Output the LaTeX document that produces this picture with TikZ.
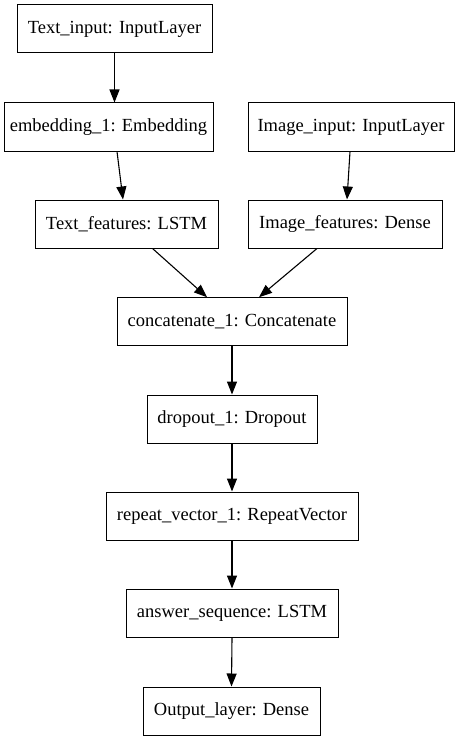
\documentclass[tikz,border=0pt]{standalone}
\usepackage{fontspec}
\newfontfamily\gvfont{Liberation Serif}
\usetikzlibrary{arrows.meta,calc}
\tikzset{
  layer/.style={draw=black,line width=1pt,minimum height=48pt,inner sep=0pt,font=\gvfont\fontsize{18.5}{20}\selectfont},
  edge/.style={line width=1.1pt,arrows={-Triangle[length=13pt,width=10pt]}}}
\begin{document}
\begin{tikzpicture}[x=1pt,y=-1pt]
\useasboundingbox (0,0) rectangle (462,741);
\node[layer,minimum width=195pt] (tin) at (114.5,29) {Text\_input: InputLayer};
\node[layer,minimum width=209pt] (emb) at (108.5,127) {embedding\_1: Embedding};
\node[layer,minimum width=206pt] (iin) at (351,127) {Image\_input: InputLayer};
\node[layer,minimum width=183pt] (tf) at (126.5,224) {Text\_features: LSTM};
\node[layer,minimum width=194pt] (imf) at (345,224) {Image\_features: Dense};
\node[layer,minimum width=230pt] (cat) at (232,321.7) {concatenate\_1: Concatenate};
\node[layer,minimum width=170pt] (drop) at (232,419) {dropout\_1: Dropout};
\node[layer,minimum width=252pt] (rep) at (232,516) {repeat\_vector\_1: RepeatVector};
\node[layer,minimum width=212pt] (ans) at (232,613) {answer\_sequence: LSTM};
\node[layer,minimum width=177pt] (out) at (231.5,711) {Output\_layer: Dense};
\draw[edge] (tin.south) -- (tin.south |- emb.north);
\draw[edge] ($(emb.south)+(8.5,0)$) -- ($(tf.north)+(-3.5,0)$);
\draw[edge] ($(iin.south)+(-1,0)$) -- ($(imf.north)+(2,0)$);
\draw[edge] ($(tf.south)+(26,0)$) -- ($(cat.north)+(-25,0)$);
\draw[edge] ($(imf.south)+(-28,0)$) -- ($(cat.north)+(27,0)$);
\draw[edge] (cat.south) -- (drop.north);
\draw[edge] (drop.south) -- (rep.north);
\draw[edge] (rep.south) -- (ans.north);
\draw[edge] (ans.south) -- (out.north);
\end{tikzpicture}
\end{document}
